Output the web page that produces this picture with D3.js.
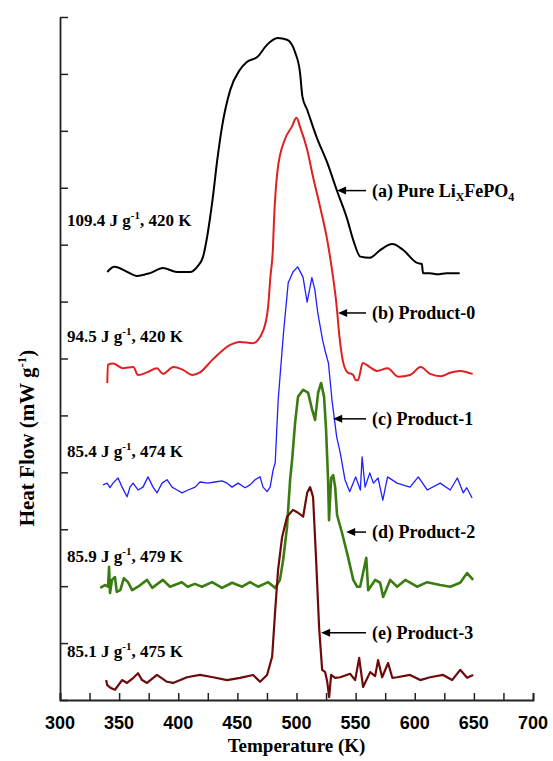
<!DOCTYPE html>
<html>
<head>
<meta charset="utf-8">
<script src="https://cdn.jsdelivr.net/npm/d3@7"></script>
<style>
  body { margin: 0; background: #fff; }
</style>
</head>
<body>
<div class="chart"></div>
<script>
// DSC curves (y in axis units, no labels on that axis)
var tempA = [340, 346, 357, 365, 376, 387, 399, 410, 416, 421, 425, 429, 433, 437, 444, 452, 458, 467, 475, 484, 492, 499, 503, 505, 509, 517, 526, 534, 543, 548, 554, 562, 571, 581, 590, 602, 606, 607, 613, 619, 627, 638];
var flowA = [7.52, 7.61, 7.52, 7.45, 7.50, 7.59, 7.52, 7.52, 7.61, 7.79, 8.21, 8.79, 9.49, 10.07, 10.72, 11.07, 11.21, 11.30, 11.51, 11.63, 11.60, 11.37, 11.02, 10.60, 10.37, 9.89, 9.44, 8.96, 8.44, 8.08, 7.79, 7.77, 7.91, 8.01, 7.91, 7.68, 7.66, 7.50, 7.50, 7.48, 7.50, 7.50];

var tempB = [340, 340.5, 345, 353, 362, 366, 374, 382, 387, 396, 404, 412, 418, 429, 444, 452, 463, 472, 476, 478, 480, 481, 484, 490, 496, 500, 503, 509, 514, 520, 526, 530, 534, 536, 539, 543, 548, 550, 552, 556, 562, 568, 577, 586, 596, 605, 613, 622, 630, 638, 644, 649];
var flowB = [5.57, 5.89, 5.91, 5.83, 5.85, 5.71, 5.76, 5.83, 5.73, 5.85, 5.80, 5.71, 5.75, 5.98, 6.24, 6.29, 6.27, 6.50, 6.91, 7.45, 7.91, 8.44, 9.31, 9.84, 10.07, 10.23, 10.07, 9.67, 9.19, 8.66, 8.08, 7.56, 6.91, 6.45, 5.98, 5.76, 5.71, 5.62, 5.62, 5.92, 5.85, 5.78, 5.83, 5.68, 5.71, 5.85, 5.73, 5.69, 5.75, 5.78, 5.76, 5.73];

var tempC = [336.4, 339.8, 342.3, 344.8, 349.1, 352.5, 356.7, 359.2, 361.8, 366, 370.2, 374.4, 378.7, 382.1, 386.3, 390.5, 394.8, 399, 403.2, 408.3, 414.2, 418.4, 425.2, 431.1, 437, 441.3, 445.5, 450.6, 456.5, 460.7, 465, 469.2, 471.7, 475.1, 477.7, 480.2, 482, 484.5, 489, 493, 497, 501, 505.5, 509, 513, 515.5, 518, 522, 524, 527, 530, 534, 537, 541, 545, 550, 554, 555.5, 558, 562, 565, 569, 573, 577, 585, 596, 603, 610.5, 621.5, 630, 636, 641, 644, 648.5];
var flowC = [3.78, 3.81, 3.73, 3.81, 3.90, 3.74, 3.57, 3.74, 3.81, 3.69, 3.74, 3.92, 3.74, 3.64, 3.81, 3.87, 3.74, 3.69, 3.64, 3.69, 3.74, 3.83, 3.81, 3.83, 3.85, 3.81, 3.74, 3.81, 3.73, 3.78, 3.87, 3.92, 3.74, 3.66, 3.74, 4.04, 4.17, 5.27, 6.45, 7.33, 7.52, 7.61, 7.43, 6.99, 7.42, 7.21, 6.80, 6.33, 6.15, 5.92, 5.27, 4.62, 4.34, 3.87, 3.66, 3.92, 3.69, 4.27, 3.74, 3.99, 3.81, 3.90, 3.51, 3.92, 3.81, 3.74, 3.92, 3.69, 3.81, 3.69, 3.90, 3.64, 3.73, 3.55];

var tempD = [334, 338, 340.6, 341.5, 342.3, 344, 346.5, 348, 351, 354, 357.5, 361, 366, 373.6, 378, 387, 393, 403, 408, 414, 420, 428.6, 437, 445.5, 454, 460.7, 467.5, 476, 482, 486, 488.7, 492, 494.6, 496.3, 498.8, 501.3, 505.6, 509.8, 513.2, 515.7, 518.3, 520.8, 523.3, 525, 526.7, 527.5, 529.3, 531, 532.7, 534.3, 538.6, 543.6, 548, 551.3, 553.8, 556.3, 559, 560.6, 566.5, 570.7, 573.3, 579.2, 585.1, 592, 602, 610.5, 621.5, 630, 638.4, 644.3, 649.4];
var flowD = [1.97, 2.02, 1.99, 2.34, 1.88, 2.11, 2.16, 1.90, 1.93, 2.14, 2.07, 1.93, 1.99, 2.11, 1.97, 2.11, 1.99, 2.07, 1.99, 2.04, 1.99, 2.07, 1.97, 2.06, 1.99, 2.07, 1.99, 2.07, 1.97, 2.11, 2.46, 3.04, 3.87, 4.22, 4.87, 5.33, 5.45, 5.40, 5.10, 4.92, 5.40, 5.57, 5.33, 4.75, 3.87, 3.16, 3.90, 3.95, 3.74, 3.25, 2.93, 2.51, 2.11, 1.99, 1.99, 2.23, 2.50, 1.93, 2.11, 2.06, 1.81, 2.11, 1.99, 2.11, 1.99, 2.07, 2.02, 1.99, 2.06, 2.23, 2.11];

var tempE = [339, 340, 343, 346.5, 352.5, 356.7, 361, 366, 369.4, 373.6, 382, 390.5, 395.6, 407.4, 418.4, 429.4, 441.3, 452.3, 463.3, 469.2, 475.1, 479.4, 482, 484.4, 487.8, 492, 497, 501.3, 505.6, 509, 511.5, 514, 516.6, 519.1, 521.7, 524.2, 526, 527.6, 529.3, 532.7, 537, 545.3, 549.6, 553, 556.3, 562.3, 566.5, 569, 572.4, 577.5, 581, 585, 596, 604.6, 613, 624, 631.6, 638.4, 644.3, 649.4];
var flowE = [0.35, 0.26, 0.21, 0.18, 0.35, 0.30, 0.37, 0.47, 0.35, 0.30, 0.44, 0.32, 0.30, 0.40, 0.44, 0.40, 0.35, 0.39, 0.44, 0.32, 0.44, 0.76, 1.58, 2.28, 2.86, 3.22, 3.34, 3.29, 3.22, 3.64, 3.74, 3.57, 2.46, 1.28, 0.53, 0.49, 0.32, 0.05, 0.44, 0.39, 0.40, 0.46, 0.35, 0.74, 0.23, 0.49, 0.42, 0.70, 0.40, 0.65, 0.39, 0.40, 0.44, 0.35, 0.40, 0.44, 0.35, 0.53, 0.39, 0.44];

var xTicks = [300, 350, 400, 450, 500, 550, 600, 650, 700];
var colors = ["#000000", "#e01f1f", "#1f1fff", "#3b7c12", "#6e0a0a"];
var widths = [2, 2, 1.3, 2.6, 2.2];

// right hand labels: name, arrow tip (T, flow)
var seriesNames = ["(a) Pure Li", "(b) Product-0", "(c) Product-1", "(d) Product-2", "(e) Product-3"];
var arrowT = [534.3, 535.2, 531, 542, 520.8];
var arrowFlow = [8.95, 6.80, 4.94, 2.95, 1.18];
// left hand enthalpy labels
var enthalpy = ["109.4", "94.5", "85.4", "85.9", "85.1"];
var onsetK = ["420", "420", "474", "479", "475"];
var enthalpyFlow = [8.33, 6.29, 4.27, 2.43, 0.76];

var W = 553, H = 761;
var svg = d3.select(".chart").append("svg")
    .attr("width", W)
    .attr("height", H);

var x = d3.scaleLinear().domain([300, 700]).range([60, 533]);
var y = d3.scaleLinear().domain([0, 12]).range([700, 17]);

// x axis
var xAxis = svg.append("g")
    .attr("transform", "translate(0," + y(0) + ")")
    .call(d3.axisBottom(x).tickValues(d3.range(300, 701, 25)).tickSize(-7).tickFormat(""));
xAxis.select(".domain").attr("stroke-width", 1.8).attr("stroke", "#222");
xAxis.selectAll(".tick line").attr("stroke-width", 1.5).attr("stroke", "#222");

svg.selectAll(".xlab").data(xTicks).enter().append("text")
    .attr("x", d => x(d))
    .attr("y", y(0) + 29)
    .attr("text-anchor", "middle")
    .style("font-family", "'Liberation Sans', Arial, sans-serif")
    .style("font-weight", "bold")
    .style("font-size", "18px")
    .text(d => d);

// y axis, ticks only
var yAxis = svg.append("g")
    .attr("transform", "translate(" + x(300) + ",0)")
    .call(d3.axisLeft(y).tickValues(d3.range(0, 13, 1)).tickSize(-8).tickFormat("").tickSizeOuter(0));
yAxis.select(".domain").attr("stroke-width", 1.8).attr("stroke", "#222");
yAxis.selectAll(".tick line").attr("stroke-width", 1.5).attr("stroke", "#222");

svg.append("text")
    .attr("x", x(500))
    .attr("y", 752)
    .attr("text-anchor", "middle")
    .style("font-family", "'Liberation Serif', 'Times New Roman', serif")
    .style("font-weight", "bold")
    .style("font-size", "19px")
    .text("Temperature (K)");

var yl = svg.append("text")
    .attr("transform", "translate(34," + 438 + ") rotate(-90)")
    .attr("text-anchor", "middle")
    .style("font-family", "'Liberation Serif', 'Times New Roman', serif")
    .style("font-weight", "bold")
    .style("font-size", "21px");
yl.append("tspan").text("Heat Flow (mW g");
yl.append("tspan").attr("dy", -8).style("font-size", "13px").text("-1");
yl.append("tspan").attr("dy", 8).text(")");

// curves
var temps = [tempA, tempB, tempC, tempD, tempE];
var flows = [flowA, flowB, flowC, flowD, flowE];
var smoothLine = d3.line().x(d => x(d[0])).y(d => y(d[1])).curve(d3.curveMonotoneX);
var line = d3.line().x(d => x(d[0])).y(d => y(d[1]));

for (var i = 0; i < 5; i++) {
    var pts = d3.zip(temps[i], flows[i]);
    svg.append("path")
        .datum(pts)
        .attr("d", i < 2 ? smoothLine : line)
        .attr("fill", "none")
        .attr("stroke", colors[i])
        .attr("stroke-width", widths[i])
        .attr("stroke-linejoin", "round");
}

// labels
var serif = "'Liberation Serif', 'Times New Roman', serif";
for (var i = 0; i < 5; i++) {
    // enthalpy on left
    var t = svg.append("text")
        .attr("x", x(306))
        .attr("y", y(enthalpyFlow[i]))
        .style("font-family", serif)
        .style("font-weight", "bold")
        .style("font-size", "17px");
    t.append("tspan").text(enthalpy[i] + " J g");
    t.append("tspan").attr("dy", -7).style("font-size", "11px").text("-1");
    t.append("tspan").attr("dy", 7).text(", " + onsetK[i] + " K");

    // arrow + name on right
    var ay = y(arrowFlow[i]);
    var ax = x(arrowT[i]);
    svg.append("line")
        .attr("x1", ax + 8).attr("y1", ay)
        .attr("x2", 366).attr("y2", ay)
        .attr("stroke", "black")
        .attr("stroke-width", 1.5);
    svg.append("path")
        .attr("d", "M" + ax + "," + ay + " l9,-4 l0,8 z")
        .attr("fill", "black");

    var n = svg.append("text")
        .attr("x", 372)
        .attr("y", ay + 6)
        .style("font-family", serif)
        .style("font-weight", "bold")
        .style("font-size", "18px");
    n.append("tspan").text(seriesNames[i]);
    if (i == 0) {
        n.append("tspan").attr("dy", 4).style("font-size", "12px").text("X");
        n.append("tspan").attr("dy", -4).text("FePO");
        n.append("tspan").attr("dy", 4).style("font-size", "12px").text("4");
    }
}
</script>
</body>
</html>
